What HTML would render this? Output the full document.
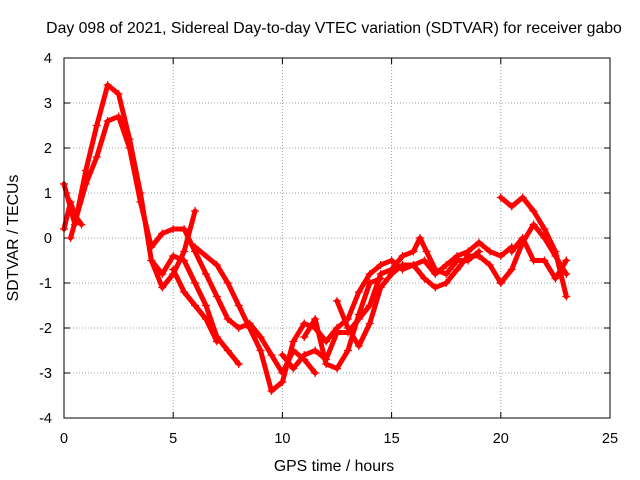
<!DOCTYPE html>
<html><head><meta charset="utf-8"><style>
body{margin:0;background:#fff}
svg{display:block;font-family:"Liberation Sans",sans-serif}
</style></head><body>
<svg width="640" height="480" viewBox="0 0 640 480">
<rect width="640" height="480" fill="#fff"/>
<text x="334" y="33" text-anchor="middle" font-size="15.8">Day 098 of 2021, Sidereal Day-to-day VTEC variation (SDTVAR) for receiver gabo</text>
<g id="grid"></g>
<g id="axes"></g>
<g id="series"></g>
<rect x="64" y="58" width="546" height="360" fill="none" stroke="#000" stroke-width="1"/>
<text x="334" y="471" text-anchor="middle" font-size="15.8">GPS time / hours</text>
<text transform="translate(18,238) rotate(-90)" text-anchor="middle" font-size="15.8">SDTVAR / TECUs</text>
</svg>
<script>
const xTicks=[0,5,10,15,20,25];
const yTicks=[-4,-3,-2,-1,0,1,2,3,4];
const trackA=[[0,1.2],[0.5,0.3],[1,1.5],[1.5,2.5],[2,3.4],[2.5,3.2],[3,2.2],[3.5,1.0],[4,-0.5],[4.5,-1.1],[5,-0.8],[5.5,-0.3],[6,0.6]];
const trackB=[[0.3,0],[1,1.2],[1.5,1.8],[2,2.6],[2.5,2.7],[3,2.0],[3.5,0.8],[4,-0.2],[4.5,0.1],[5,0.2],[5.5,0.2],[6,-0.3],[6.5,-0.8],[7,-1.3],[7.5,-1.8],[8,-2.0],[8.5,-1.9],[9,-2.2],[9.5,-2.6],[10,-3.0],[10.5,-2.5],[11,-2.7],[11.5,-3.0]];
const trackC=[[4,-0.5],[4.5,-0.8],[5,-0.4],[5.5,-0.5],[6,-1.0],[6.5,-1.5],[7,-2.2],[7.5,-2.5],[8,-2.8]];
const trackD=[[5,-0.7],[5.5,-1.2],[6,-1.5],[6.5,-1.8],[7,-2.3]];
const trackE=[[6,-0.2],[7,-0.6],[7.5,-1.0],[8,-1.5],[8.5,-2.0],[9,-2.5],[9.5,-3.4],[10,-3.2],[10.5,-2.3],[11,-1.9],[11.5,-2.0],[12,-2.3],[12.5,-2.0],[13,-1.8],[13.5,-1.2],[14,-0.8],[14.5,-0.6],[15,-0.5],[15.5,-0.7],[16,-0.6],[16.5,-0.5],[17,-0.8],[17.5,-0.6],[18,-0.4],[18.5,-0.3],[19,-0.1],[19.5,-0.3],[20,-0.4],[20.5,-0.2]];
const trackF=[[10,-2.6],[10.5,-2.9],[11,-2.6],[11.5,-2.5],[12,-2.7],[12.5,-2.1],[13,-2.1],[13.5,-1.8],[14,-1.5],[14.5,-0.8],[15,-0.7],[15.5,-0.4],[16,-0.3],[16.3,0.0],[16.6,-0.3],[17,-0.7],[17.5,-0.8],[18,-0.5],[18.5,-0.5],[19,-0.3]];
const trackG=[[12.5,-1.4],[13,-2.0],[13.5,-2.4],[14,-1.9],[14.5,-1.1],[15,-0.8],[15.5,-0.6],[16,-0.6],[16.5,-0.9],[17,-1.1],[17.5,-1.0],[18,-0.7],[18.5,-0.4],[19,-0.4],[19.5,-0.6],[20,-1.0]];
const trackH=[[20,0.9],[20.5,0.7],[21,0.9],[21.5,0.6],[22,0.2],[22.5,-0.3],[23,-1.3]];
const trackI=[[20,-1.0],[20.5,-0.7],[21,-0.1],[21.5,0.3],[22,0.0],[22.5,-0.4],[23,-0.8]];
const trackJ=[[20.5,-0.3],[21,0.0],[21.5,-0.5],[22,-0.5],[22.5,-0.9],[23,-0.5]];
const trackK=[[0,0.2],[0.3,0.8],[0.5,0.5],[0.8,0.3]];
const trackL=[[11,-2.2],[11.5,-1.8],[12,-2.8],[12.5,-2.9],[13,-2.5],[13.5,-1.7],[14,-1.0],[14.5,-0.9]];
const tracks=[trackA,trackB,trackC,trackD,trackE,trackF,trackG,trackH,trackI,trackJ,trackK,trackL];
const NS="http://www.w3.org/2000/svg";
const X=v=>64+v*546/25, Y=v=>238-v*45;
const grid=document.getElementById('grid'),axes=document.getElementById('axes'),ser=document.getElementById('series');
function mk(tag,attrs,parent){const e=document.createElementNS(NS,tag);for(const k in attrs)e.setAttribute(k,attrs[k]);parent.appendChild(e);return e;}
xTicks.forEach(t=>{
  const x=X(t);
  if(t>0&&t<25){const g=mk('line',{x1:x,x2:x,y1:58,y2:418,stroke:'#a0a0a0','stroke-dasharray':'1,2'},grid);
  
  }
  mk('line',{x1:x,x2:x,y1:418,y2:412,stroke:'#000'},axes);
  mk('line',{x1:x,x2:x,y1:58,y2:64,stroke:'#000'},axes);
  const l=mk('text',{x:x,y:443,'text-anchor':'middle','font-size':'14.5'},axes);l.textContent=t;
  
  
});
yTicks.forEach(t=>{
  const y=Y(t);
  if(t>-4&&t<4){const g=mk('line',{x1:64,x2:610,y1:y,y2:y,stroke:'#a0a0a0','stroke-dasharray':'1,2'},grid);
  
  }
  mk('line',{x1:64,x2:70,y1:y,y2:y,stroke:'#000'},axes);
  mk('line',{x1:610,x2:604,y1:y,y2:y,stroke:'#000'},axes);
  const l=mk('text',{x:52,y:y+5,'text-anchor':'end','font-size':'14.5'},axes);l.textContent=t;
  
  
});
tracks.forEach((tr,i)=>{
  const p=mk('polyline',{points:tr.map(d=>X(d[0])+','+Y(d[1])).join(' '),fill:'none',stroke:'#ff0000','stroke-width':'5','stroke-linejoin':'round','stroke-linecap':'round'},ser);
  
  
  tr.forEach(d=>{
    const x=X(d[0]),y=Y(d[1]);
    const m=mk('path',{d:`M${x-4},${y}H${x+4}M${x},${y-4}V${y+4}`,stroke:'#ff0000','stroke-width':'1.2'},ser);
    
    
  });
});
</script>
</body></html>
